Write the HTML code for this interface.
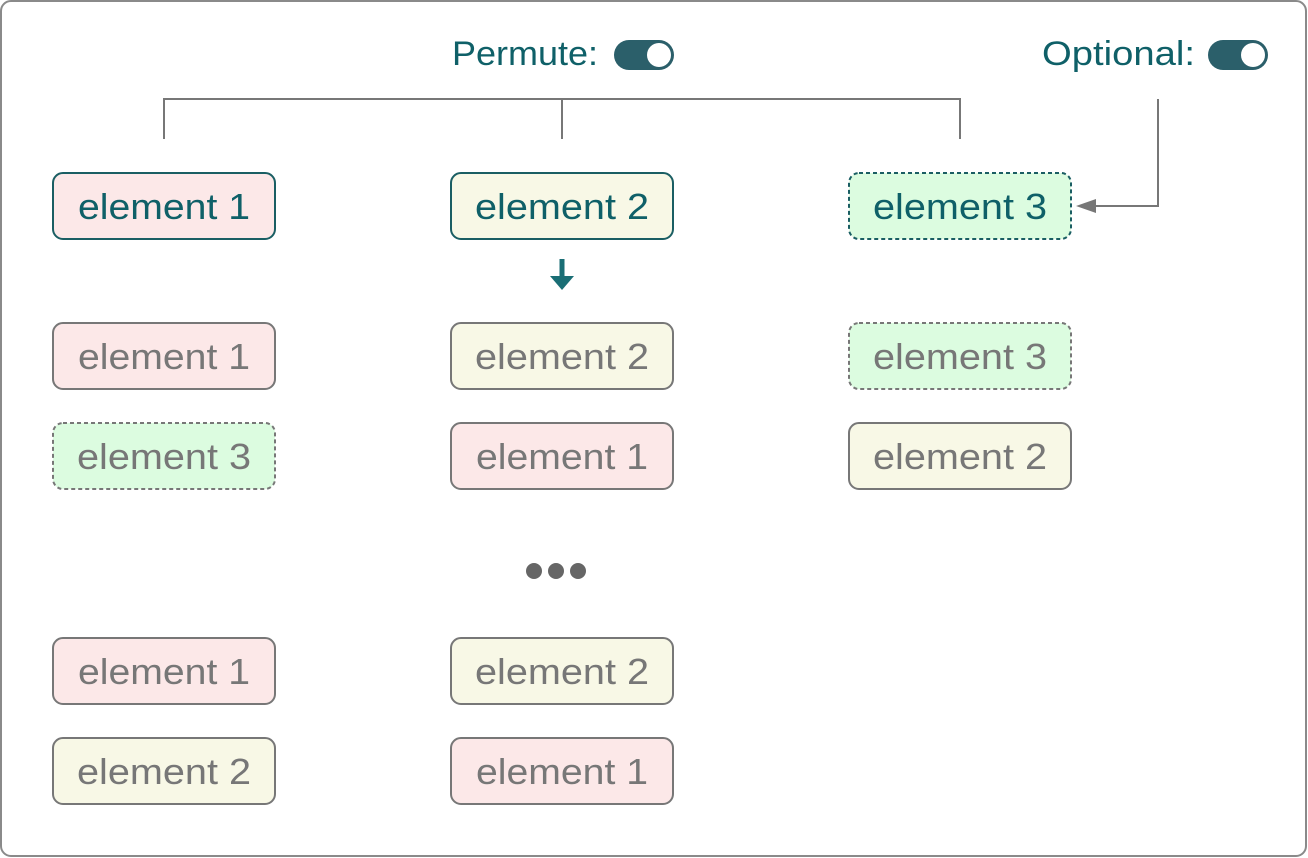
<!DOCTYPE html>
<html><head><style>html,body{margin:0;padding:0;background:#fff}svg{display:block}</style></head><body>
<svg width="1308" height="858" viewBox="0 0 1308 858" xmlns="http://www.w3.org/2000/svg" font-family="'Liberation Sans', 'DejaVu Sans', sans-serif">
<rect x="1" y="1" width="1305" height="855" rx="10" fill="#fff" stroke="#8a8a8a" stroke-width="2"/>
<g font-size="34" fill="#0f6068">
<text x="452" y="65" textLength="146" lengthAdjust="spacingAndGlyphs">Permute:</text>
<text x="1042" y="65" textLength="153" lengthAdjust="spacingAndGlyphs">Optional:</text>
</g>
<rect x="614" y="40" width="60" height="30" rx="15" fill="#2b5f6a"/>
<circle cx="659" cy="55" r="12" fill="#fff"/>
<rect x="1208" y="40" width="60" height="30" rx="15" fill="#2b5f6a"/>
<circle cx="1253" cy="55" r="12" fill="#fff"/>
<g stroke="#777" stroke-width="2" fill="none">
<path d="M164 139 V99 H960 V139"/>
<path d="M562 99 V139"/>
<path d="M1158 99 V206 H1090"/>
</g>
<polygon points="1076,206 1096,199 1096,213" fill="#777"/>
<path d="M562 259 V279" stroke="#1a6e75" stroke-width="5"/>
<polygon points="550,276 574,276 562,290" fill="#1a6e75"/>
<g fill="#666"><circle cx="534" cy="571" r="8"/><circle cx="556" cy="571" r="8"/><circle cx="578" cy="571" r="8"/></g>
<g stroke-width="2">
<rect x="53" y="173" width="222" height="66" rx="10" fill="#fce8e8" stroke="#1a5e63"/>
<rect x="451" y="173" width="222" height="66" rx="10" fill="#f8f8e6" stroke="#1a5e63"/>
<rect x="849" y="173" width="222" height="66" rx="10" fill="#dcfce0" stroke="#1a5e63" stroke-dasharray="4 3"/>
<rect x="53" y="323" width="222" height="66" rx="10" fill="#fce8e8" stroke="#777"/>
<rect x="451" y="323" width="222" height="66" rx="10" fill="#f8f8e6" stroke="#777"/>
<rect x="849" y="323" width="222" height="66" rx="10" fill="#dcfce0" stroke="#777" stroke-dasharray="4 3"/>
<rect x="53" y="423" width="222" height="66" rx="10" fill="#dcfce0" stroke="#777" stroke-dasharray="4 3"/>
<rect x="451" y="423" width="222" height="66" rx="10" fill="#fce8e8" stroke="#777"/>
<rect x="849" y="423" width="222" height="66" rx="10" fill="#f8f8e6" stroke="#777"/>
<rect x="53" y="638" width="222" height="66" rx="10" fill="#fce8e8" stroke="#777"/>
<rect x="451" y="638" width="222" height="66" rx="10" fill="#f8f8e6" stroke="#777"/>
<rect x="53" y="738" width="222" height="66" rx="10" fill="#f8f8e6" stroke="#777"/>
<rect x="451" y="738" width="222" height="66" rx="10" fill="#fce8e8" stroke="#777"/>
</g>
<g font-size="36" text-anchor="middle">
<g fill="#0f6068">
<text x="164" y="219" textLength="172" lengthAdjust="spacingAndGlyphs">element 1</text>
<text x="562" y="219" textLength="174" lengthAdjust="spacingAndGlyphs">element 2</text>
<text x="960" y="219" textLength="174" lengthAdjust="spacingAndGlyphs">element 3</text>
</g>
<g fill="#777">
<text x="164" y="369" textLength="172" lengthAdjust="spacingAndGlyphs">element 1</text>
<text x="562" y="369" textLength="174" lengthAdjust="spacingAndGlyphs">element 2</text>
<text x="960" y="369" textLength="174" lengthAdjust="spacingAndGlyphs">element 3</text>
<text x="164" y="469" textLength="174" lengthAdjust="spacingAndGlyphs">element 3</text>
<text x="562" y="469" textLength="172" lengthAdjust="spacingAndGlyphs">element 1</text>
<text x="960" y="469" textLength="174" lengthAdjust="spacingAndGlyphs">element 2</text>
<text x="164" y="684" textLength="172" lengthAdjust="spacingAndGlyphs">element 1</text>
<text x="562" y="684" textLength="174" lengthAdjust="spacingAndGlyphs">element 2</text>
<text x="164" y="784" textLength="174" lengthAdjust="spacingAndGlyphs">element 2</text>
<text x="562" y="784" textLength="172" lengthAdjust="spacingAndGlyphs">element 1</text>
</g>
</g>
</svg>
</body></html>
